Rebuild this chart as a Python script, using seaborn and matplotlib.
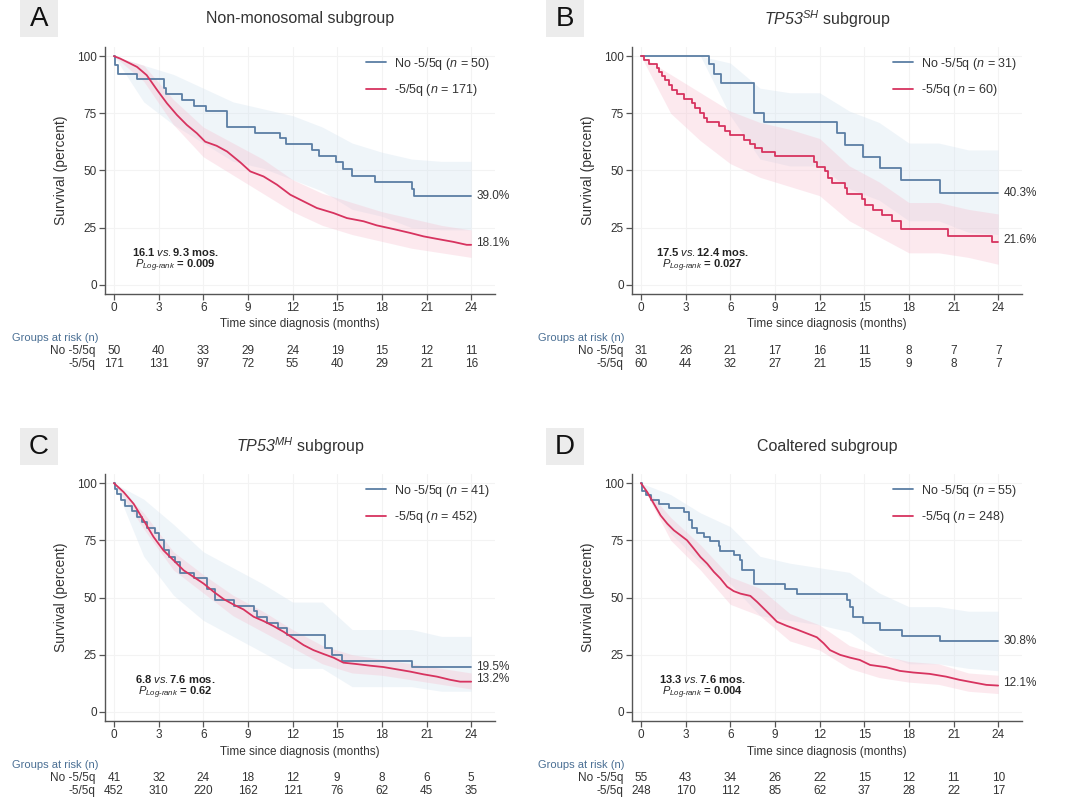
import numpy as np
import pandas as pd
import matplotlib
matplotlib.use("Agg")
import matplotlib.pyplot as plt
import matplotlib.transforms as mtransforms
from matplotlib.lines import Line2D
from matplotlib.patches import Rectangle
import seaborn as sns

sns.set_theme(style="white")
plt.rcParams['font.family'] = ['Liberation Sans', 'DejaVu Sans']
plt.rcParams['mathtext.fontset'] = 'custom'
plt.rcParams['mathtext.rm'] = 'Liberation Sans'
plt.rcParams['mathtext.it'] = 'Liberation Sans:italic'
plt.rcParams['mathtext.sf'] = 'Liberation Sans:italic'
plt.rcParams['mathtext.bf'] = 'Liberation Sans:bold'

# ---- data ----
months = [0, 3, 6, 9, 12, 15, 18, 21, 24]
band_t = [0, 2, 4, 6, 8, 10, 12, 14, 16, 18, 20, 22, 24]

# A: Non-monosomal
a_blue_t = [0, 0.1, 0.3, 1.55, 3.33, 3.5, 4.57, 5.35, 6.18, 7.6, 9.45, 11.17, 11.57, 13.3, 13.8, 14.9, 15.4, 16.0, 17.55, 20.05, 20.15, 24]
a_blue_s = [100, 96, 92, 90, 86, 83.4, 80.9, 78.4, 75.9, 68.9, 66.5, 64, 61.5, 58.8, 56.2, 53.5, 50.7, 47.8, 44.9, 42, 39, 39]
a_red_t = [0, 0.4, 0.87, 1.55, 2.2, 2.9, 3.56, 4.23, 4.9, 5.57, 6.13, 6.9, 7.6, 8.5, 9.16, 10.05, 10.95, 11.85, 12.74, 13.63, 14.75, 15.65, 16.77, 17.66, 18.78, 19.9, 20.8, 21.7, 22.8, 23.7, 24]
a_red_s = [100, 99, 97.5, 95.3, 91.7, 85.2, 79.4, 74.3, 69.9, 66.3, 62.6, 60.8, 58.3, 53.5, 49.6, 47.4, 43.8, 39.4, 36.5, 33.6, 31.4, 29.2, 27.8, 26.0, 24.4, 22.7, 21.2, 20.1, 18.8, 17.5, 17.5]
a_blue_lo = [100, 80, 70, 62, 54, 51, 46, 41, 33, 30, 25, 24, 24]
a_blue_hi = [100, 96, 92, 86, 80, 77, 74, 69, 62, 58, 55, 54, 54]
a_red_lo = [100, 89, 70, 56, 48, 40, 32, 26, 22, 19, 16, 14, 12]
a_red_hi = [100, 96, 81, 69, 62, 55, 46, 40, 36, 32, 29, 26, 24]

# B: TP53 SH
b_blue_t = [0, 4.56, 4.9, 5.35, 7.58, 8.25, 13.2, 13.7, 14.95, 16.07, 17.47, 20.1, 24]
b_blue_s = [100, 96.4, 92.2, 88.1, 75.3, 71.1, 66.6, 61.2, 56.1, 51.0, 45.9, 40.3, 40.3]
b_red_t = [0, 0.2, 0.54, 1.1, 1.2, 1.43, 1.65, 1.88, 2.1, 2.44, 2.88, 3.44, 3.66, 4.0, 4.22, 4.45, 5.23, 5.68, 6.0, 6.9, 7.35, 7.69, 8.13, 9.03, 11.6, 11.82, 12.38, 12.6, 12.83, 13.72, 13.83, 14.84, 15.06, 15.6, 16.2, 16.85, 17.5, 20.65, 23.56, 24]
b_red_s = [100, 98.3, 96.6, 94.9, 93.2, 91.4, 89.5, 87.4, 85.2, 83.3, 81.2, 79.4, 77.2, 75.0, 72.8, 71.4, 69.5, 67.4, 65.6, 63.4, 61.6, 59.7, 58.3, 56.4, 53.9, 51.7, 49.6, 46.7, 44.5, 42.3, 39.8, 37.5, 35.0, 32.6, 30.4, 28.1, 24.4, 21.5, 18.8, 18.8]
b_blue_lo = [100, 100, 100, 74, 55, 52, 52, 42, 37, 28, 28, 23, 22]
b_blue_hi = [100, 100, 100, 97, 86, 84, 84, 76, 71, 62, 62, 59, 59]
b_red_lo = [100, 75, 63, 53, 47, 43, 39, 28, 21, 14, 14, 12, 9]
b_red_hi = [100, 92, 84, 76, 71, 68, 64, 52, 45, 36, 36, 33, 31]

# C: TP53 MH
c_blue_t = [0, 0.09, 0.2, 0.47, 0.76, 1.2, 1.55, 1.88, 2.2, 2.78, 3.0, 3.33, 3.67, 4.1, 4.45, 5.35, 6.25, 6.8, 8.04, 9.38, 9.6, 10.27, 11.05, 11.62, 14.2, 14.64, 15.3, 20.05, 24]
c_blue_s = [100, 97.6, 95.1, 92.7, 90.2, 87.8, 85.4, 82.9, 80.5, 78.1, 75.0, 70.7, 67.7, 65.5, 60.5, 58.5, 53.7, 48.8, 46.4, 43.9, 41.4, 39.0, 36.5, 33.6, 27.8, 24.9, 22.4, 19.5, 19.5]
c_red_t = [0, 0.65, 1.32, 2.0, 2.66, 3.33, 4.0, 4.68, 5.35, 6.02, 6.7, 7.37, 8.04, 8.7, 9.38, 10.05, 10.72, 11.4, 12.07, 12.74, 13.4, 14.08, 14.75, 15.42, 16.3, 17.2, 18.1, 19.0, 19.9, 20.8, 21.7, 22.6, 23.26, 24]
c_red_s = [100, 96.1, 91.0, 83.7, 76.5, 70.6, 66.3, 61.9, 59.0, 56.1, 52.5, 49.3, 46.9, 44.8, 41.6, 39.7, 37.5, 35.0, 32.1, 29.2, 27.0, 25.3, 23.7, 21.5, 20.9, 20.2, 19.6, 18.6, 17.6, 16.4, 15.4, 14.0, 13.2, 13.2]
c_blue_lo = [100, 68, 51, 40, 33, 26, 19, 19, 11, 11, 11, 9, 9]
c_blue_hi = [100, 93, 82, 70, 63, 56, 48, 48, 36, 36, 36, 33, 33]
c_red_lo = [100, 80, 62, 52, 42, 35, 28, 21, 17, 16, 14, 12, 10]
c_red_hi = [100, 87, 70, 60, 51, 44, 36, 29, 25, 23, 21, 19, 17]

# D: Coaltered
d_blue_t = [0, 0.1, 0.31, 0.65, 1.2, 1.88, 2.88, 3.2, 3.44, 3.78, 4.22, 4.67, 5.23, 5.34, 6.23, 6.68, 6.79, 7.58, 9.7, 10.48, 13.83, 14.05, 14.28, 14.95, 16.07, 17.52, 20.09, 24]
d_blue_s = [100, 96.4, 94.6, 92.7, 90.9, 89.2, 87.4, 83.7, 80.4, 78.2, 76.5, 74.6, 72.4, 70.3, 68.5, 66.3, 62.2, 56.1, 53.5, 51.5, 48.8, 45.9, 41.6, 39.0, 35.8, 33.1, 30.8, 30.8]
d_red_t = [0, 0.42, 0.87, 1.32, 1.77, 2.21, 2.66, 3.1, 3.55, 4.0, 4.45, 4.9, 5.34, 5.79, 6.23, 6.68, 7.35, 7.8, 8.25, 8.7, 9.14, 9.8, 10.48, 11.15, 11.82, 12.27, 12.7, 13.39, 14.05, 14.7, 15.4, 16.5, 17.4, 18.3, 19.4, 20.5, 21.4, 22.3, 23.2, 24]
d_red_s = [100, 96.1, 91.0, 85.9, 82.3, 79.4, 77.2, 75.0, 71.4, 67.7, 64.8, 61.2, 58.3, 54.7, 52.8, 51.7, 50.7, 48.1, 45.2, 42.3, 39.4, 37.6, 36.0, 34.3, 32.6, 30.0, 27.0, 24.9, 23.7, 22.7, 20.5, 19.5, 17.9, 17.2, 16.6, 15.4, 14.0, 12.9, 11.8, 11.5]
d_blue_lo = [100, 78, 65, 56, 42, 40, 38, 35, 26, 21, 21, 19, 18]
d_blue_hi = [100, 95, 87, 81, 68, 65, 63, 61, 52, 46, 46, 44, 44]
d_red_lo = [100, 75, 62, 47, 42, 31, 27, 19, 15, 13, 12, 9, 8]
d_red_hi = [100, 85, 73, 59, 54, 43, 38, 29, 25, 22, 21, 17, 16]

# at-risk tables
a_risk_blue = [50, 40, 33, 29, 24, 19, 15, 12, 11]
a_risk_red = [171, 131, 97, 72, 55, 40, 29, 21, 16]
b_risk_blue = [31, 26, 21, 17, 16, 11, 8, 7, 7]
b_risk_red = [60, 44, 32, 27, 21, 15, 9, 8, 7]
c_risk_blue = [41, 32, 24, 18, 12, 9, 8, 6, 5]
c_risk_red = [452, 310, 220, 162, 121, 76, 62, 45, 35]
d_risk_blue = [55, 43, 34, 26, 22, 15, 12, 11, 10]
d_risk_red = [248, 170, 112, 85, 62, 37, 28, 22, 17]

titles = ["Non-monosomal subgroup", r"$\mathsf{TP53}^{\mathsf{SH}}$ subgroup",
          r"$\mathsf{TP53}^{\mathsf{MH}}$ subgroup", "Coaltered subgroup"]
letters = ["A", "B", "C", "D"]
n_blue = [50, 31, 41, 55]
n_red = [171, 60, 452, 248]
end_blue = ["39.0%", "40.3%", "19.5%", "30.8%"]
end_red = ["18.1%", "21.6%", "13.2%", "12.1%"]
medians = ["16.1 $\\mathit{vs.}$9.3 mos.", "17.5 $\\mathit{vs.}$12.4 mos.",
           "6.8 $\\mathit{vs.}$7.6 mos.", "13.3 $\\mathit{vs.}$7.6 mos."]
pvals = ["0.009", "0.027", "0.62", "0.004"]
red_steps = [False, True, False, False]

BLUE = "#5b7ea4"
RED = "#d7335f"
TXT = "#333333"

W, H = 1080, 802
fig = plt.figure(figsize=(W / 100, H / 100), dpi=100)


def fx(x):
    return x / W


def fy(y):
    return 1 - y / H


panels = [
    dict(bt=a_blue_t, bs=a_blue_s, rt=a_red_t, rs=a_red_s, blo=a_blue_lo, bhi=a_blue_hi,
         rlo=a_red_lo, rhi=a_red_hi, rb=a_risk_blue, rr=a_risk_red, left=105, top=47, ox=0, oy=0),
    dict(bt=b_blue_t, bs=b_blue_s, rt=b_red_t, rs=b_red_s, blo=b_blue_lo, bhi=b_blue_hi,
         rlo=b_red_lo, rhi=b_red_hi, rb=b_risk_blue, rr=b_risk_red, left=632, top=47, ox=526, oy=0),
    dict(bt=c_blue_t, bs=c_blue_s, rt=c_red_t, rs=c_red_s, blo=c_blue_lo, bhi=c_blue_hi,
         rlo=c_red_lo, rhi=c_red_hi, rb=c_risk_blue, rr=c_risk_red, left=105, top=474, ox=0, oy=427),
    dict(bt=d_blue_t, bs=d_blue_s, rt=d_red_t, rs=d_red_s, blo=d_blue_lo, bhi=d_blue_hi,
         rlo=d_red_lo, rhi=d_red_hi, rb=d_risk_blue, rr=d_risk_red, left=632, top=474, ox=526, oy=427),
]

for i, p in enumerate(panels):
    aw, ah = 390, 247
    ax = fig.add_axes([fx(p['left']), fy(p['top'] + ah), aw / W, ah / H])
    ax.set_xlim(-0.6, 25.6)
    ax.set_ylim(-4, 104)

    # confidence bands
    ax.fill_between(band_t, p['blo'], p['bhi'], color="#d3e3f0", alpha=0.35, lw=0)
    ax.fill_between(band_t, p['rlo'], p['rhi'], color="#f7bccd", alpha=0.32, lw=0)

    blue_df = pd.DataFrame({"t": p['bt'], "s": p['bs']})
    red_df = pd.DataFrame({"t": p['rt'], "s": p['rs']})
    sns.lineplot(data=blue_df, x="t", y="s", ax=ax, color=BLUE, lw=1.3,
                 drawstyle="steps-post", estimator=None, sort=False)
    sns.lineplot(data=red_df, x="t", y="s", ax=ax, color=RED, lw=1.3,
                 drawstyle="steps-post" if red_steps[i] else "default",
                 estimator=None, sort=False)

    ax.set_xticks(months)
    ax.set_yticks([0, 25, 50, 75, 100])
    ax.grid(True, color="#f3f3f3", lw=0.8)
    for s in ["top", "right"]:
        ax.spines[s].set_visible(False)
    for s in ["left", "bottom"]:
        ax.spines[s].set_color("#555555")
        ax.spines[s].set_linewidth(1.0)
    ax.tick_params(axis="both", direction="out", length=4, width=0.9, color="#555555",
                   labelsize=8.5, labelcolor=TXT, pad=2, left=True, bottom=True)
    ax.set_xlabel("Time since diagnosis (months)", fontsize=8.5, color=TXT, labelpad=3)
    ax.set_ylabel("Survival (percent)", fontsize=10, color=TXT, labelpad=6)

    handles = [Line2D([], [], color=BLUE, lw=1.3), Line2D([], [], color=RED, lw=1.3)]
    labels = [f"No -5/5q ($\\mathit{{n}}$ = {n_blue[i]})", f"-5/5q ($\\mathit{{n}}$ = {n_red[i]})"]
    ax.legend(handles, labels, loc="upper left", bbox_to_anchor=(0.67, 0.965), frameon=False,
              fontsize=9, handlelength=1.6, handletextpad=0.6, labelspacing=0.85,
              borderaxespad=0, borderpad=0, labelcolor=TXT)

    # end labels
    ax.text(24.35, p['bs'][-1], end_blue[i], fontsize=8.5, color=TXT, va="center", ha="left")
    ax.text(24.35, p['rs'][-1] + 1, end_red[i], fontsize=8.5, color=TXT, va="center", ha="left")

    # median / p-value annotation
    ax.text(4.1, 14.2, medians[i], fontsize=8, fontweight="bold", color="#222222",
            ha="center", va="center")
    ax.text(4.1, 8.4, r"$\mathit{P}_{\mathit{Log\text{-}rank}}$ = " + pvals[i], fontsize=8,
            fontweight="bold", color="#222222", ha="center", va="center")

    # title
    fig.text(fx(p['left'] + aw / 2), fy(19 + p['oy']), titles[i], fontsize=11.5, color=TXT,
             ha="center", va="center")

    # panel letter box
    bx, by = 20 + p['ox'], 0 + p['oy'] + (0 if p['oy'] == 0 else 1)
    fig.patches.append(Rectangle((fx(bx), fy(by + 37)), 38 / W, 37 / H, transform=fig.transFigure,
                                 facecolor="#ececec", edgecolor="none"))
    fig.text(fx(bx + 19), fy(by + 19), letters[i], fontsize=20, color="#111111",
             ha="center", va="center")

    # risk table
    trans = mtransforms.blended_transform_factory(ax.transData, fig.transFigure)
    base = 338 if p['oy'] == 0 else 765
    fig.text(fx(12 + p['ox']), fy(base), "Groups at risk (n)", fontsize=8, color="#4a6f94",
             ha="left", va="center")
    fig.text(fx(95 + p['ox'] + (2 if p['ox'] else 0)), fy(base + 13), "No -5/5q", fontsize=8.5,
             color=TXT, ha="right", va="center")
    fig.text(fx(95 + p['ox'] + (2 if p['ox'] else 0)), fy(base + 26), "-5/5q", fontsize=8.5,
             color=TXT, ha="right", va="center")
    for m, vb, vr in zip(months, p['rb'], p['rr']):
        ax.text(m, fy(base + 13), str(vb), transform=trans, fontsize=8.5, color=TXT,
                ha="center", va="center")
        ax.text(m, fy(base + 26), str(vr), transform=trans, fontsize=8.5, color=TXT,
                ha="center", va="center")

fig.savefig("out.png", dpi=100, facecolor="white")
